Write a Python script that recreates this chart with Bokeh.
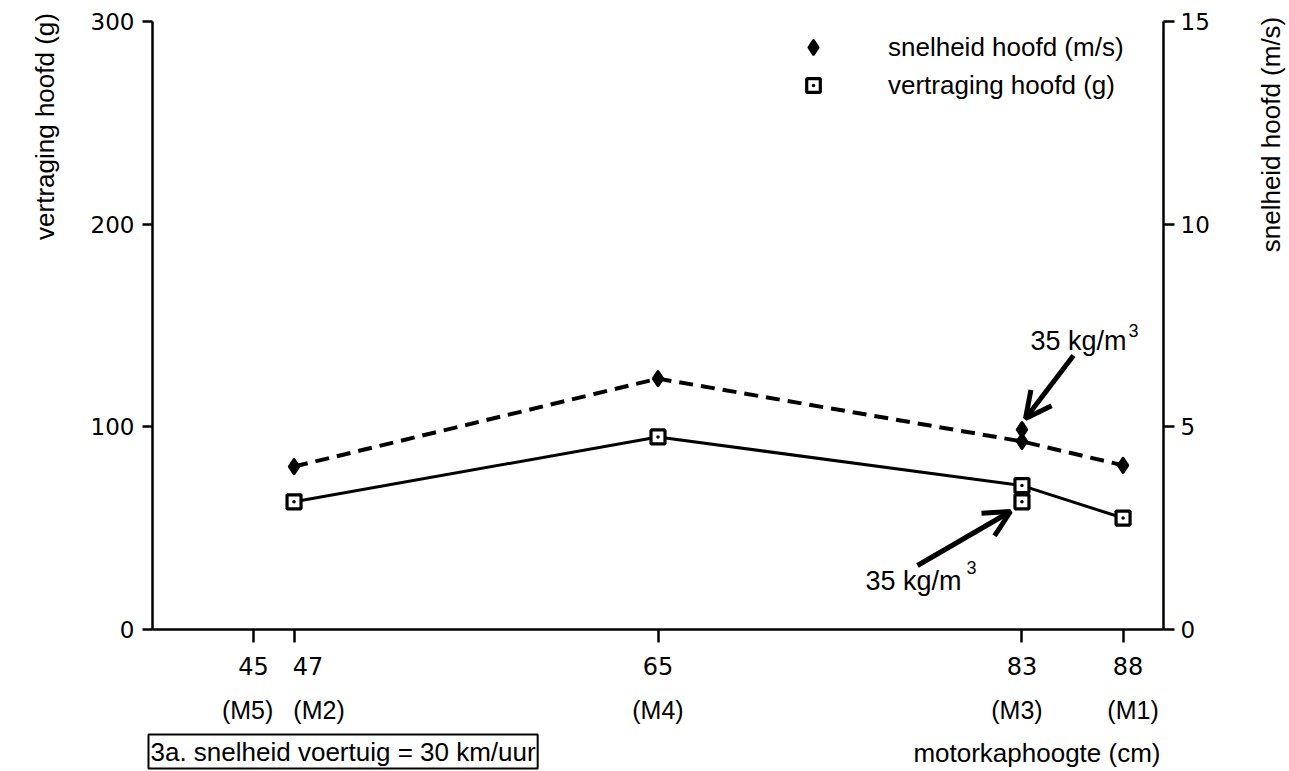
import math
from bokeh.plotting import figure
from bokeh.models import (Range1d, LinearAxis, FixedTicker, Label, Legend, LegendItem,
                          Arrow, OpenHead)
from bokeh.embed import file_html
from bokeh.resources import INLINE

# ---- data ----
hood_height = [47, 65, 83, 88]                 # motorkaphoogte (cm)
vertraging = [63, 95, 71, 55]                  # vertraging hoofd (g)
snelheid = [4.02, 6.19, 4.64, 4.05]            # snelheid hoofd (m/s)
extra_x = [83]                                 # 35 kg/m3 variant
extra_vertraging = [63]
extra_snelheid = [4.93]
x_ticks = [45, 47, 65, 83, 88]
x_tick_labels = ["45", "47", "65", "83", "88"]
x_tick_models = ["(M5)", "(M2)", "(M4)", "(M3)", "(M1)"]
left_ticks = [0, 100, 200, 300]
right_ticks = [0, 5, 10, 15]
X_MIN, X_MAX = 40, 90
Y_MAX, Y2_MAX = 300, 15

# ---- page geometry (pixels) ----
W, H = 1289, 771
LEFT_PX, RIGHT_PX, TOP_PX, BOTTOM_PX = 152, 1163, 21, 629
XS = (RIGHT_PX - LEFT_PX) / (X_MAX - X_MIN)
YS = (BOTTOM_PX - TOP_PX) / Y_MAX
RATIO = Y2_MAX / Y_MAX
# horizontal nudges (px) of the crowded tick labels, as in the original
NUM_SHIFT_PX = [0, 14, 0, 0, 5]
MODEL_SHIFT_PX = [-6, 25, 0, -5, 10]

def X(px):
    return X_MIN + (px - LEFT_PX) / XS

def Y(py):
    return (BOTTOM_PX - py) / YS

p = figure(width=W, height=H, output_backend="svg", toolbar_location=None,
           x_range=Range1d(X(0), X(W)), y_range=Range1d(Y(H), Y(0)),
           x_axis_location=None, y_axis_location=None, min_border=0)
p.extra_y_ranges = {"right": Range1d(Y(H) * RATIO, Y(0) * RATIO)}
p.outline_line_color = None
p.grid.visible = False
p.background_fill_color = "white"
p.border_fill_color = "white"

NUM_FONT = "DejaVu Sans"
TXT_FONT = "Liberation Sans"

def style_axis(ax, ticks, tick_out, standoff):
    ax.ticker = FixedTicker(ticks=ticks)
    ax.axis_line_width = 2.5
    ax.axis_line_color = "black"
    ax.major_tick_line_width = 2.5
    ax.major_tick_out = tick_out
    ax.major_tick_in = 0
    ax.minor_tick_line_color = None
    ax.major_label_text_font = NUM_FONT
    ax.major_label_text_font_size = "23px"
    ax.major_label_text_color = "black"
    ax.major_label_standoff = standoff

ax_l = LinearAxis(fixed_location=X_MIN, bounds=(0, Y_MAX))
style_axis(ax_l, left_ticks, 10, 8)
p.add_layout(ax_l, "left")

ax_r = LinearAxis(y_range_name="right", fixed_location=X_MAX, bounds=(0, Y2_MAX))
style_axis(ax_r, right_ticks, 11, 6)
p.add_layout(ax_r, "right")

# x axis: line + tick marks
ax_b = LinearAxis(fixed_location=0, bounds=(X_MIN, X_MAX))
style_axis(ax_b, x_ticks, 13, 10)
ax_b.major_label_overrides = {t: "" for t in x_ticks}
p.add_layout(ax_b, "below")

def label_axis(labels, shifts, font, size, standoff):
    pos = [round(t + s / XS, 4) for t, s in zip(x_ticks, shifts)]
    ax = LinearAxis(fixed_location=0)
    ax.ticker = FixedTicker(ticks=pos)
    ax.axis_line_color = None
    ax.major_tick_line_color = None
    ax.major_tick_out = 0
    ax.major_tick_in = 0
    ax.minor_tick_line_color = None
    ax.major_label_overrides = {q: s for q, s in zip(pos, labels)}
    ax.major_label_text_font = font
    ax.major_label_text_font_size = size
    ax.major_label_text_color = "black"
    ax.major_label_standoff = standoff
    p.add_layout(ax, "below")
    return ax

label_axis(x_tick_labels, NUM_SHIFT_PX, NUM_FONT, "24px", 27)
label_axis(x_tick_models, MODEL_SHIFT_PX, TXT_FONT, "25px", 66)

# ---- lines ----
p.line(hood_height, snelheid, y_range_name="right", line_color="black",
       line_width=4, line_dash="14 8")
p.line(hood_height, vertraging, line_color="black", line_width=3)

# ---- markers ----
r_snel = p.scatter(hood_height, snelheid, y_range_name="right", marker="diamond",
                   size=14, fill_color="black", line_color="black", line_width=3,
                   line_join="round")
p.scatter(extra_x, extra_snelheid, y_range_name="right", marker="diamond",
          size=14, fill_color="black", line_color="black", line_width=3, line_join="round")
r_vert = p.scatter(hood_height, vertraging, marker="square_dot", size=14,
                   fill_color="white", line_color="black", line_width=3.2)
p.scatter(extra_x, extra_vertraging, marker="square_dot", size=14,
          fill_color="white", line_color="black", line_width=3.2)

# ---- legend ----
GLY = 34
legend = Legend(items=[LegendItem(label="snelheid hoofd (m/s)", renderers=[r_snel]),
                       LegendItem(label="vertraging hoofd (g)", renderers=[r_vert])],
                location=(796, H - 30 - (2 * GLY + 4)), orientation="vertical")
legend.border_line_color = None
legend.background_fill_alpha = 0
legend.padding = 0
legend.margin = 0
legend.glyph_width = GLY
legend.glyph_height = GLY
legend.label_height = GLY
legend.label_standoff = 58
legend.spacing = 4
legend.label_text_font = TXT_FONT
legend.label_text_font_size = "26px"
legend.label_text_color = "black"
p.add_layout(legend, "center")

# ---- annotations ----
def lab(px, py, text, size, **kw):
    kw.setdefault("text_baseline", "alphabetic")
    l = Label(x=X(px), y=Y(py), text=text, text_font=TXT_FONT, text_font_size=size,
              text_color="black", **kw)
    p.add_layout(l)
    return l

lab(1030, 340, "35 kg/m", "27px")
lab(1128, 330, "3", "18px")
lab(865, 580, "35 kg/m", "27px")
lab(966, 567, "3", "18px")

p.add_layout(Arrow(end=OpenHead(size=26, line_width=5, line_color="black"),
                   x_start=X(1073), y_start=Y(355), x_end=X(1025), y_end=Y(418),
                   line_width=5, line_color="black"))
p.add_layout(Arrow(end=OpenHead(size=26, line_width=5, line_color="black"),
                   x_start=X(917), y_start=Y(565), x_end=X(1010), y_end=Y(511),
                   line_width=5, line_color="black"))

# axis titles and caption
lab(44, 126, "vertraging hoofd (g)", "26px", angle=math.pi / 2,
    text_align="center", text_baseline="middle")
lab(1270, 134, "snelheid hoofd (m/s)", "26px", angle=math.pi / 2,
    text_align="center", text_baseline="middle")
lab(1160, 752, "motorkaphoogte (cm)", "26px", text_align="right")
lab(148, 751, "3a. snelheid voertuig = 30 km/uur", "26px",
    border_line_color="black", border_line_width=2,
    background_fill_color="white", padding=2)

open("out.html", "w").write(file_html(p, INLINE))
